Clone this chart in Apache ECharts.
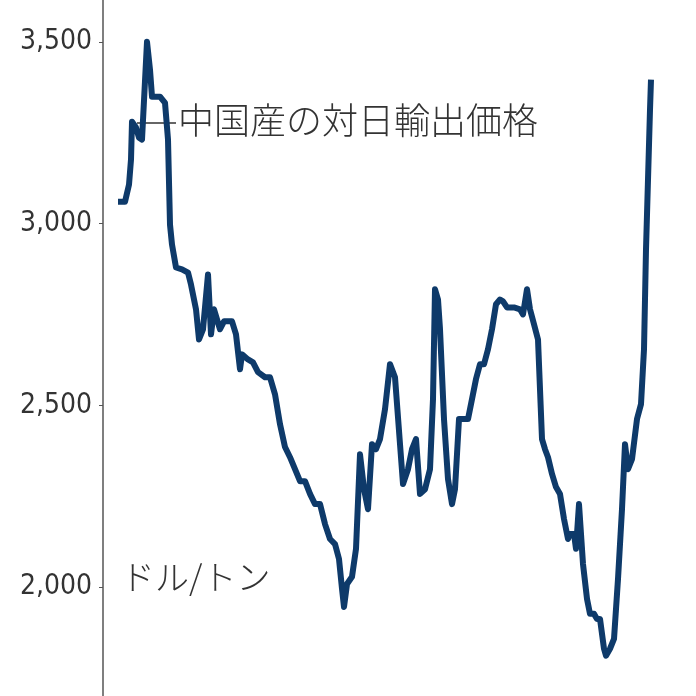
<!DOCTYPE html>
<html><head><meta charset="utf-8">
<script src="https://cdn.jsdelivr.net/npm/echarts@6/dist/echarts.min.js"></script>
<style>html,body{margin:0;padding:0;background:#fff}#c{width:696px;height:696px}</style>
</head><body><div id="c"></div>
<script>
const xs=[0,7,11,13,14,18,21,24,29,32,34,42,47,50,52,54,58,64,70,73,78,81,85,90,93,96,99,102,106,114,118,122,124,130,135,140,147,152,157,162,167,172,177,182,187,192,197,202,207,212,217,221,224,226,229,234,238,242,246,250,254,258,262,267,272,277,282,285,290,294,298,302,307,312,315,317,320,322,326,330,334,337,341,346,350,354,358,362,366,370,374,378,382,385,389,396,402,405,409,412,416,420,424,427,430,434,438,442,446,450,452,456,458,461,465,469,472,476,479,482,486,488,492,496,500,504,507,510,514,519,523,526,528,530,532,533];
const values=[3060,3060,3107,3176,3280,3264,3236,3231,3500,3423,3349,3349,3332,3231,2997,2942,2879,2874,2865,2832,2764,2681,2709,2860,2695,2764,2736,2709,2731,2731,2695,2599,2640,2626,2618,2591,2577,2577,2530,2448,2385,2357,2324,2291,2291,2256,2228,2228,2173,2132,2118,2077,1995,1945,2008,2028,2105,2365,2269,2214,2393,2379,2407,2489,2613,2577,2393,2283,2324,2379,2407,2256,2269,2324,2517,2819,2791,2709,2462,2297,2228,2269,2462,2462,2462,2517,2572,2613,2613,2654,2709,2778,2791,2786,2769,2769,2764,2750,2819,2764,2723,2681,2407,2379,2357,2311,2275,2256,2187,2132,2146,2146,2105,2228,2063,1967,1926,1926,1912,1912,1830,1811,1830,1857,2022,2214,2393,2324,2352,2462,2503,2654,2929,3121,3313,3396];
const yTicks=[2000,2500,3000,3500];
const title='中国産の対日輸出価格', unit='ドル/トン';
const data=xs.map((x,i)=>[x,values[i]]);
const ch=echarts.init(document.getElementById('c'));
const font='"Liberation Sans Narrow","DejaVu Sans Condensed","Noto Sans",sans-serif';
ch.setOption({
 animation:false,
 grid:{left:103,right:40,top:0,bottom:0},
 xAxis:{type:'value',min:-15,max:538,show:false},
 yAxis:{type:'value',min:1700,max:3615,
  axisLine:{show:true,onZero:false,lineStyle:{color:'#555',width:1.5}},
  axisTick:{show:true,length:4,customValues:yTicks,lineStyle:{color:'#555'}},
  splitLine:{show:false},
  axisLabel:{color:'#333',fontSize:28,fontFamily:font,margin:11,customValues:yTicks}},
 series:[{type:'line',data:data,symbol:'none',lineStyle:{color:'#0e3a6a',width:6,join:'round'}}],
 graphic:[
  {type:'line',shape:{x1:137,y1:123,x2:176,y2:123},style:{stroke:'#333',lineWidth:1.5}},
  {type:'text',left:178,top:102,style:{text:title,fontSize:36,fill:'#333',fontFamily:'"Noto Sans CJK JP",sans-serif',fontWeight:300}},
  {type:'text',left:121,top:560,style:{text:unit,fontSize:34,fill:'#333',fontFamily:'"Noto Sans CJK JP",sans-serif',fontWeight:300}}
 ]
});
</script></body></html>
